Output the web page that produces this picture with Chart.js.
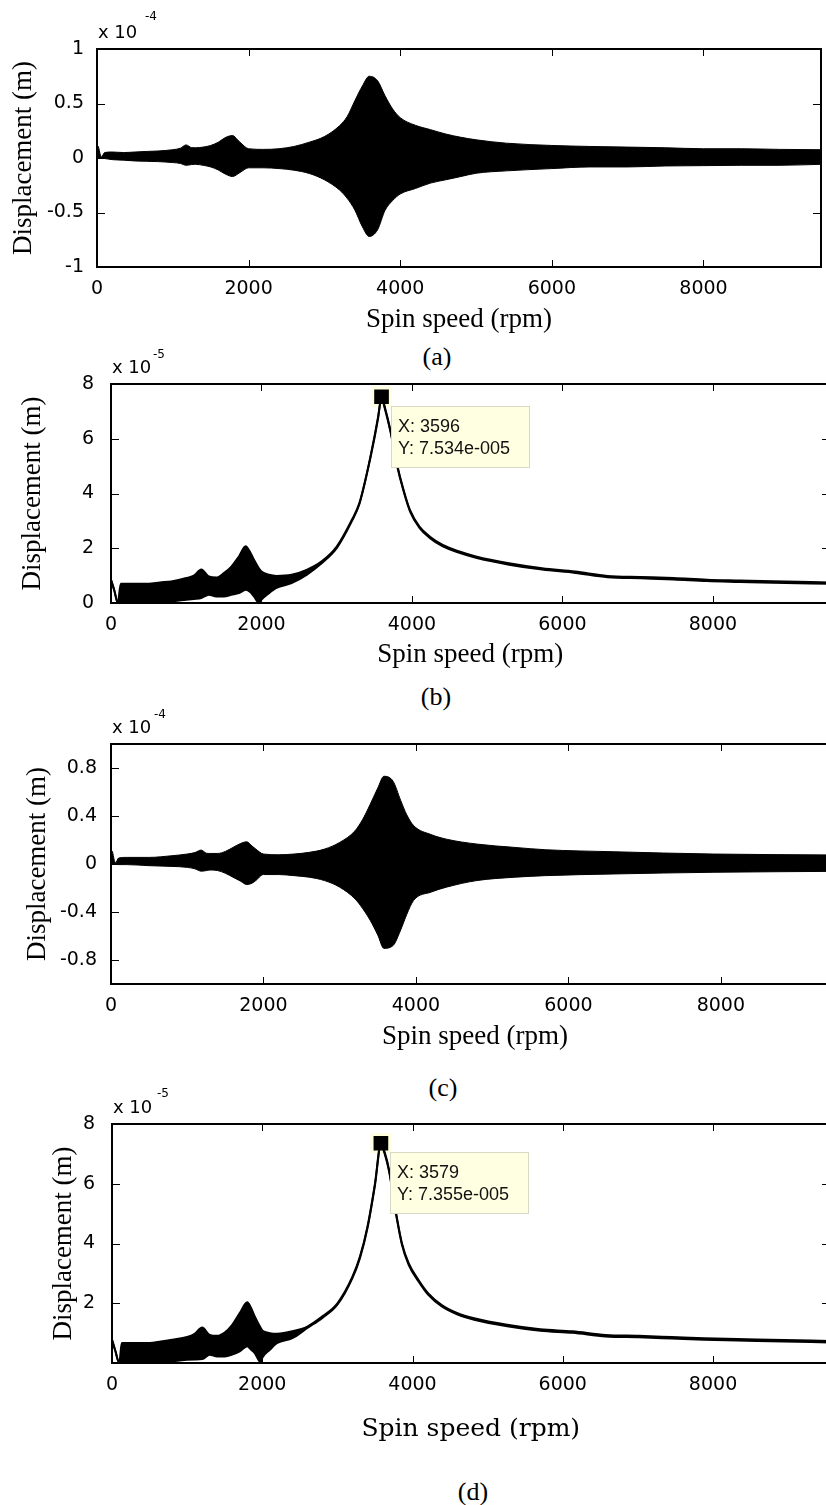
<!DOCTYPE html>
<html>
<head>
<meta charset="utf-8">
<script src="https://cdn.jsdelivr.net/npm/chart.js@4.4.0/dist/chart.umd.min.js"></script>
<style>
  html, body { margin: 0; padding: 0; background: #fff; overflow: hidden; }
  #page { position: relative; width: 826px; height: 1505px; overflow: hidden; background: #fff; }
  #page canvas { position: absolute; left: 0; }
  .cap { position: absolute; width: 100px; text-align: center; font-family: 'Liberation Serif', 'Times New Roman', serif; font-size: 26px; line-height: 30px; color: #000; }
</style>
</head>
<body>
<div id="page">
  <canvas id="chartA" width="826" height="336" style="top:0px"></canvas>
  <div class="cap" style="left:387px; top:342px">(a)</div>
  <canvas id="chartB" width="845" height="331" style="top:340px"></canvas>
  <div class="cap" style="left:386px; top:682px">(b)</div>
  <canvas id="chartC" width="845" height="353" style="top:700px"></canvas>
  <div class="cap" style="left:393px; top:1073px">(c)</div>
  <canvas id="chartD" width="845" height="364" style="top:1080px"></canvas>
  <div class="cap" style="left:423px; top:1477px">(d)</div>
</div>
<script>
// spin speed ticks shared by all four panels
const xTicks = [0, 2000, 4000, 6000, 8000];
const xMax = 9550;

// (a) time response, envelope of the oscillation, units of 1e-4 m
const rpmA = [0, 20, 40, 60, 100, 200, 350, 500, 650, 800, 1000, 1100, 1175, 1250, 1300, 1400, 1500, 1600, 1700, 1790,
  1850, 1900, 2000, 2200, 2400, 2600, 2800, 3000, 3200, 3300, 3400, 3500, 3590, 3700, 3800, 3900, 4000, 4200, 4400, 4600,
  4800, 5000, 5400, 6000, 6500, 7000, 7500, 8000, 8500, 9000, 9550];
const upperA = [0.12, 0.1, 0.04, 0.01, 0.05, 0.055, 0.05, 0.055, 0.06, 0.064, 0.076, 0.09, 0.12, 0.095, 0.094, 0.1, 0.115, 0.145, 0.19, 0.206,
  0.17, 0.136, 0.085, 0.079, 0.085, 0.106, 0.145, 0.197, 0.297, 0.38, 0.524, 0.66, 0.75, 0.71, 0.57, 0.45, 0.37, 0.3, 0.26, 0.22,
  0.19, 0.167, 0.136, 0.115, 0.106, 0.1, 0.094, 0.085, 0.085, 0.079, 0.076];
const lowerA = [0, 0, 0, 0, -0.005, -0.015, -0.02, -0.027, -0.03, -0.033, -0.042, -0.05, -0.067, -0.06, -0.058, -0.067, -0.082, -0.11, -0.15, -0.17,
  -0.15, -0.127, -0.09, -0.09, -0.097, -0.112, -0.142, -0.2, -0.294, -0.37, -0.476, -0.63, -0.72, -0.66, -0.48, -0.39, -0.33, -0.28, -0.23, -0.2,
  -0.17, -0.14, -0.118, -0.097, -0.082, -0.082, -0.073, -0.07, -0.067, -0.067, -0.058];
const yTicksA = [-1, -0.5, 0, 0.5, 1];

// (b) amplitude, units of 1e-5 m
const rpmB = [0, 45, 90, 130, 200, 350, 500, 650, 800, 1000, 1100, 1200, 1300, 1400, 1500, 1600, 1700, 1790, 1850, 1900,
  1970, 2000, 2100, 2200, 2400, 2600, 2800, 3000, 3200, 3300, 3400, 3500, 3550, 3596, 3640, 3715, 3800, 3890, 3975, 4100,
  4240, 4410, 4630, 4850, 5290, 5730, 6170, 6600, 7040, 7480, 7920, 8360, 8800, 9550];
const upperB = [0.85, 0.45, 0, 0.7, 0.7, 0.7, 0.7, 0.75, 0.79, 0.91, 1.0, 1.22, 0.97, 0.93, 1.09, 1.33, 1.7, 2.07, 1.85, 1.58,
  1.25, 1.15, 1.03, 0.99, 1.03, 1.21, 1.52, 2.06, 3.03, 3.64, 4.73, 6.06, 6.8, 7.534, 7.15, 6.3, 5.09, 4.12, 3.39, 2.79,
  2.42, 2.12, 1.88, 1.7, 1.45, 1.27, 1.15, 0.99, 0.95, 0.91, 0.85, 0.82, 0.79, 0.75];
const lowerB = [0.85, 0.45, 0, 0, 0.02, 0, 0.02, 0.04, 0.06, 0.12, 0.15, 0.18, 0.3, 0.24, 0.24, 0.3, 0.36, 0.48, 0.4, 0.24,
  0, 0.12, 0.36, 0.55, 0.73, 1.03, 1.45, 2.0, 2.98, 3.6, 4.7, 6.0, 6.75, 7.5, 7.1, 6.25, 5.04, 4.07, 3.34, 2.74,
  2.37, 2.07, 1.83, 1.65, 1.4, 1.22, 1.1, 0.94, 0.9, 0.86, 0.8, 0.77, 0.74, 0.7];
const yTicksB = [0, 2, 4, 6, 8];
const tipB = { x: 3596, y: 7.534, label: '7.534e-005' };

// (c) time response, units of 1e-4 m
const rpmC = [0, 20, 40, 60, 100, 200, 500, 800, 1000, 1100, 1185, 1250, 1300, 1400, 1500, 1600, 1700, 1780, 1850, 1900,
  2000, 2200, 2400, 2600, 2800, 3000, 3200, 3300, 3400, 3500, 3580, 3700, 3800, 3880, 3970, 4200, 4400, 4800, 5300, 5700,
  6600, 7900, 9550];
const upperC = [0.116, 0.1, 0.04, 0.01, 0.05, 0.055, 0.055, 0.069, 0.083, 0.095, 0.116, 0.09, 0.088, 0.088, 0.105, 0.138, 0.171, 0.185, 0.15, 0.124,
  0.083, 0.077, 0.083, 0.097, 0.124, 0.18, 0.276, 0.37, 0.497, 0.634, 0.731, 0.69, 0.53, 0.41, 0.32, 0.245, 0.207, 0.166, 0.138, 0.119,
  0.102, 0.083, 0.075];
const lowerC = [0, 0, 0, 0, -0.005, -0.005, -0.014, -0.02, -0.028, -0.04, -0.06, -0.055, -0.05, -0.055, -0.077, -0.11, -0.143, -0.171, -0.16, -0.138,
  -0.088, -0.088, -0.097, -0.11, -0.138, -0.193, -0.29, -0.37, -0.469, -0.593, -0.703, -0.68, -0.55, -0.42, -0.303, -0.234, -0.193, -0.138, -0.11, -0.097,
  -0.083, -0.069, -0.061];
const yTicksC = [-0.8, -0.4, 0, 0.4, 0.8];

// (d) amplitude, units of 1e-5 m
const rpmD = [0, 45, 96, 130, 200, 350, 500, 650, 800, 1000, 1100, 1200, 1300, 1400, 1500, 1600, 1700, 1800, 1850, 1900,
  1980, 2000, 2100, 2200, 2400, 2600, 2800, 3000, 3200, 3300, 3400, 3500, 3579, 3630, 3690, 3775, 3860, 3950, 4080, 4210,
  4390, 4600, 4820, 5260, 5700, 6130, 6570, 7010, 7450, 7880, 8320, 8760, 9550];
const upperD = [0.78, 0.4, 0, 0.67, 0.67, 0.67, 0.67, 0.72, 0.78, 0.87, 0.98, 1.19, 0.94, 0.91, 1.02, 1.28, 1.67, 2.03, 1.85, 1.56,
  1.17, 1.09, 1.0, 0.98, 1.06, 1.22, 1.56, 2.0, 2.89, 3.56, 4.56, 6.0, 7.355, 7.05, 6.44, 5.11, 4.0, 3.33, 2.78, 2.33,
  1.94, 1.67, 1.5, 1.28, 1.13, 1.06, 0.94, 0.91, 0.87, 0.83, 0.8, 0.78, 0.74];
const lowerD = [0.78, 0.4, 0, 0, 0.06, 0.03, 0.06, 0.05, 0.06, 0.11, 0.12, 0.13, 0.28, 0.22, 0.22, 0.28, 0.39, 0.56, 0.45, 0.33,
  0.02, 0.17, 0.44, 0.67, 0.83, 1.17, 1.51, 1.95, 2.84, 3.51, 4.51, 5.95, 7.3, 7.0, 6.39, 5.06, 3.95, 3.28, 2.73, 2.28,
  1.89, 1.62, 1.45, 1.23, 1.08, 1.01, 0.89, 0.86, 0.82, 0.78, 0.75, 0.73, 0.69];
const yTicksD = [2, 4, 6, 8];
const tipD = { x: 3579, y: 7.355, label: '7.355e-005' };

const tickFont = { family: 'DejaVu Sans', size: 19 };
const serif = 'Liberation Serif';

// matlab style frame with inward ticks, exponent label and data tip
const matlabBox = {
  id: 'matlabBox',
  afterDatasetsDraw(chart, args, opts) {
    const { ctx, chartArea: a, scales: { x, y } } = chart;
    const l = Math.round(a.left), r = Math.round(a.right), t = Math.round(a.top), b = Math.round(a.bottom);
    ctx.save();
    if (opts.tip) {
      const px = Math.round(x.getPixelForValue(opts.tip.x));
      const py = Math.round(y.getPixelForValue(opts.tip.y));
      ctx.fillStyle = '#d8d8c4';
      ctx.fillRect(px + 9, py + 9, 139, 62);
      ctx.fillStyle = '#ffffe1';
      ctx.fillRect(px + 10, py + 10, 137, 60);
      ctx.fillStyle = '#111';
      ctx.font = '18px "Liberation Sans", Arial, sans-serif';
      ctx.textBaseline = 'alphabetic';
      ctx.fillText('X: ' + opts.tip.x, px + 16, py + 35);
      ctx.fillText('Y: ' + opts.tip.label, px + 16, py + 57);
    }
    ctx.fillStyle = '#000';
    ctx.fillRect(l - 1, t - 1, r - l + 2, 2);
    ctx.fillRect(l - 1, b - 1, r - l + 2, 2);
    ctx.fillRect(l - 1, t - 1, 2, b - t + 1);
    ctx.fillRect(r - 1, t - 1, 2, b - t + 1);
    x.ticks.forEach(tk => {
      const px = Math.round(x.getPixelForValue(tk.value));
      if (px < l + 3 || px > r - 3) return;
      ctx.fillRect(px, b - 7, 1, 6);
      ctx.fillRect(px, t + 1, 1, 6);
    });
    y.ticks.forEach(tk => {
      const py = Math.round(y.getPixelForValue(tk.value));
      if (py < t + 3 || py > b - 3) return;
      ctx.fillRect(l + 1, py, 7, 1);
      ctx.fillRect(r - 8, py, 7, 1);
    });
    ctx.textBaseline = 'alphabetic';
    ctx.font = '18px "DejaVu Sans"';
    ctx.fillText('x 10', l + 1, t - 11);
    ctx.font = '12px "DejaVu Sans"';
    ctx.fillText(opts.power, l + opts.powerDx, t - opts.powerDy);
    ctx.restore();
  }
};

function makeChart(id, p) {
  const datasets = [
    {
      data: p.rpm.map((v, i) => ({ x: v, y: p.upper[i] })),
      borderColor: '#000', backgroundColor: '#000', borderWidth: p.lineWidth,
      pointRadius: 0, fill: '+1', cubicInterpolationMode: 'monotone'
    },
    {
      data: p.rpm.map((v, i) => ({ x: v, y: p.lower[i] })),
      borderColor: '#000', borderWidth: p.lineWidth,
      pointRadius: 0, fill: false, cubicInterpolationMode: 'monotone'
    }
  ];
  if (p.tip) {
    datasets.push({
      data: [{ x: p.tip.x, y: p.tip.y }],
      showLine: false, pointStyle: 'rect', pointRadius: 12.5,
      backgroundColor: '#000', borderColor: '#ffffe0', borderWidth: 3, clip: false
    });
  }
  return new Chart(document.getElementById(id).getContext('2d'), {
    type: 'line',
    data: { datasets },
    options: {
      responsive: false,
      animation: false,
      events: [],
      layout: { padding: { left: 0, top: p.top, right: p.right, bottom: 0 } },
      plugins: {
        legend: { display: false },
        tooltip: { enabled: false },
        matlabBox: { power: p.power, powerDx: p.powerDx, powerDy: p.powerDy, tip: p.tip }
      },
      scales: {
        x: {
          type: 'linear', min: 0, max: xMax,
          afterBuildTicks: s => { s.ticks = xTicks.map(v => ({ value: v })); },
          afterFit: s => { s.height = p.xHeight; },
          grid: { display: false },
          border: { display: true, color: '#000', width: 2 },
          ticks: { font: tickFont, color: '#000', padding: 3, maxRotation: 0, callback: v => String(v) },
          title: { display: true, text: 'Spin speed (rpm)', color: '#000', padding: 0,
            font: { family: p.xTitleFamily || serif, size: p.xTitleSize || 27 } }
        },
        y: {
          type: 'linear', min: p.yMin, max: p.yMax,
          afterBuildTicks: s => { s.ticks = p.yTicks.map(v => ({ value: v })); },
          afterFit: s => { s.width = p.yWidth; },
          grid: { display: false },
          border: { display: true, color: '#000', width: 2 },
          ticks: { font: tickFont, color: '#000', padding: p.yPad, callback: v => String(v) },
          title: { display: true, text: 'Displacement (m)', color: '#000',
            padding: { top: p.yTitlePad, bottom: 0 }, font: { family: serif, size: 27 } }
        }
      }
    },
    plugins: [matlabBox]
  });
}

makeChart('chartA', { rpm: rpmA, upper: upperA, lower: lowerA, lineWidth: 1, yMin: -1, yMax: 1, yTicks: yTicksA,
  top: 49, right: 5, yWidth: 97, xHeight: 69, yPad: 5, yTitlePad: 8, power: '-4', powerDx: 48, powerDy: 29 });
makeChart('chartB', { rpm: rpmB, upper: upperB, lower: lowerB, lineWidth: 2, yMin: 0, yMax: 8, yTicks: yTicksB, tip: tipB,
  top: 44, right: 11, yWidth: 111, xHeight: 68, yPad: 9, yTitlePad: 17, power: '-5', powerDx: 42, powerDy: 26 });
makeChart('chartC', { rpm: rpmC, upper: upperC, lower: lowerC, lineWidth: 1, yMin: -1, yMax: 1, yTicks: yTicksC,
  top: 44, right: 6, yWidth: 111, xHeight: 69, yPad: 6, yTitlePad: 22, power: '-4', powerDx: 43, powerDy: 26 });
makeChart('chartD', { rpm: rpmD, upper: upperD, lower: lowerD, lineWidth: 2, yMin: 0, yMax: 8, yTicks: yTicksD, tip: tipD,
  top: 44, right: 6, yWidth: 112, xHeight: 81, yPad: 9, yTitlePad: 48, power: '-5', powerDx: 45, powerDy: 27,
  xTitleFamily: 'DejaVu Serif', xTitleSize: 25 });
</script>
</body>
</html>
